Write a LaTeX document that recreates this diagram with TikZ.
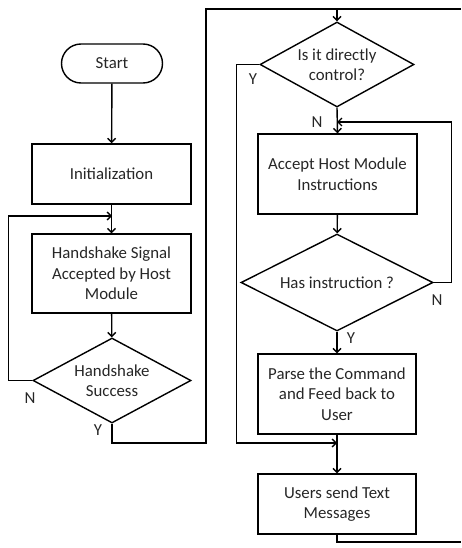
\documentclass[tikz,border=0pt]{standalone}
\usepackage{fontspec}
\setmainfont{Carlito}
\usetikzlibrary{arrows.meta,shapes.geometric}
\begin{document}
\begin{tikzpicture}[x=1pt,y=-1pt,
  every node/.style={font=\fontsize{16.8}{20.5}\selectfont, text=black!85},
  box/.style={draw, line width=1.4pt, rectangle, minimum width=159pt, inner sep=0pt, align=center},
  dia/.style={draw, line width=1.4pt, diamond, inner sep=0pt, align=center},
  term/.style={draw, line width=1.4pt, rectangle, rounded corners=19.5pt, minimum width=101pt, minimum height=39pt, inner sep=0pt},
  conn/.style={line width=1.4pt},
  arr/.style={line width=1.4pt, -{Straight Barb[length=4pt,width=8pt]}},
  lbl/.style={inner sep=0pt}]
\useasboundingbox (0,0) rectangle (461,548);
% nodes
\node[term] (start) at (112,63.5) {Start};
\node[box, minimum height=60pt] (init) at (111.5,174) {Initialization};
\node[box, minimum height=79pt] (hs) at (111.5,273.5) {Handshake Signal\\Accepted by Host\\Module};
\node[dia, minimum width=158pt, minimum height=85pt, shape aspect=1.86] (hsd) at (112,380.5) {Handshake\\Success};
\node[dia, minimum width=154pt, minimum height=85pt, shape aspect=1.81] (isd) at (337,64.5) {Is it directly\\control?};
\node[box, minimum height=80pt] (acc) at (337.5,174) {Accept Host Module\\Instructions};
\node[dia, minimum width=192pt, minimum height=97pt, shape aspect=1.98] (hasd) at (337,282.5) {Has instruction ?};
\node[box, minimum width=158pt, minimum height=80pt] (parse) at (337,394) {Parse the Command\\and Feed back to\\User};
\node[box, minimum width=158pt, minimum height=60pt] (users) at (337,504) {Users send Text\\Messages};
% labels
\node[lbl] (n1) at (30,398) {N};
\node[lbl] (y1) at (98,430) {Y};
\node[lbl] (y2) at (253,79) {Y};
\node[lbl] (n2) at (317,122) {N};
\node[lbl] (n3) at (437,300) {N};
\node[lbl] (y3) at (351,338) {Y};
% coordinates
\coordinate (cin) at (112,216);
\coordinate (c1) at (206,443);
\coordinate (c2) at (206,9);
\coordinate (ctr) at (461,9);
\coordinate (ctop) at (337,9);
\coordinate (cj) at (337,443);
\coordinate (cacc) at (337,122);
\coordinate (cbr) at (461,542);
% connectors
\draw[arr] (start) -- (init);
\draw[arr] (init) -- (hs);
\draw[arr] (hs) -- (hsd);
\draw[arr] (hsd.west) -- ++(-24,0) |- (cin);
\draw[conn] (hsd.south) |- (c1) -- (c2) -- (ctr);
\draw[arr] (ctop) -- (isd.north);
\draw[arr] (isd.west) -- ++(-23,0) |- (cj);
\draw[arr] (isd.south) -- (acc.north);
\draw[arr] (acc) -- (hasd);
\draw[arr] (hasd.east) -- ++(18,0) |- (cacc);
\draw[arr] (hasd.south) -- (parse.north);
\draw[arr] (parse) -- (users);
\draw[conn] (users.south) |- (cbr);
\end{tikzpicture}
\end{document}
